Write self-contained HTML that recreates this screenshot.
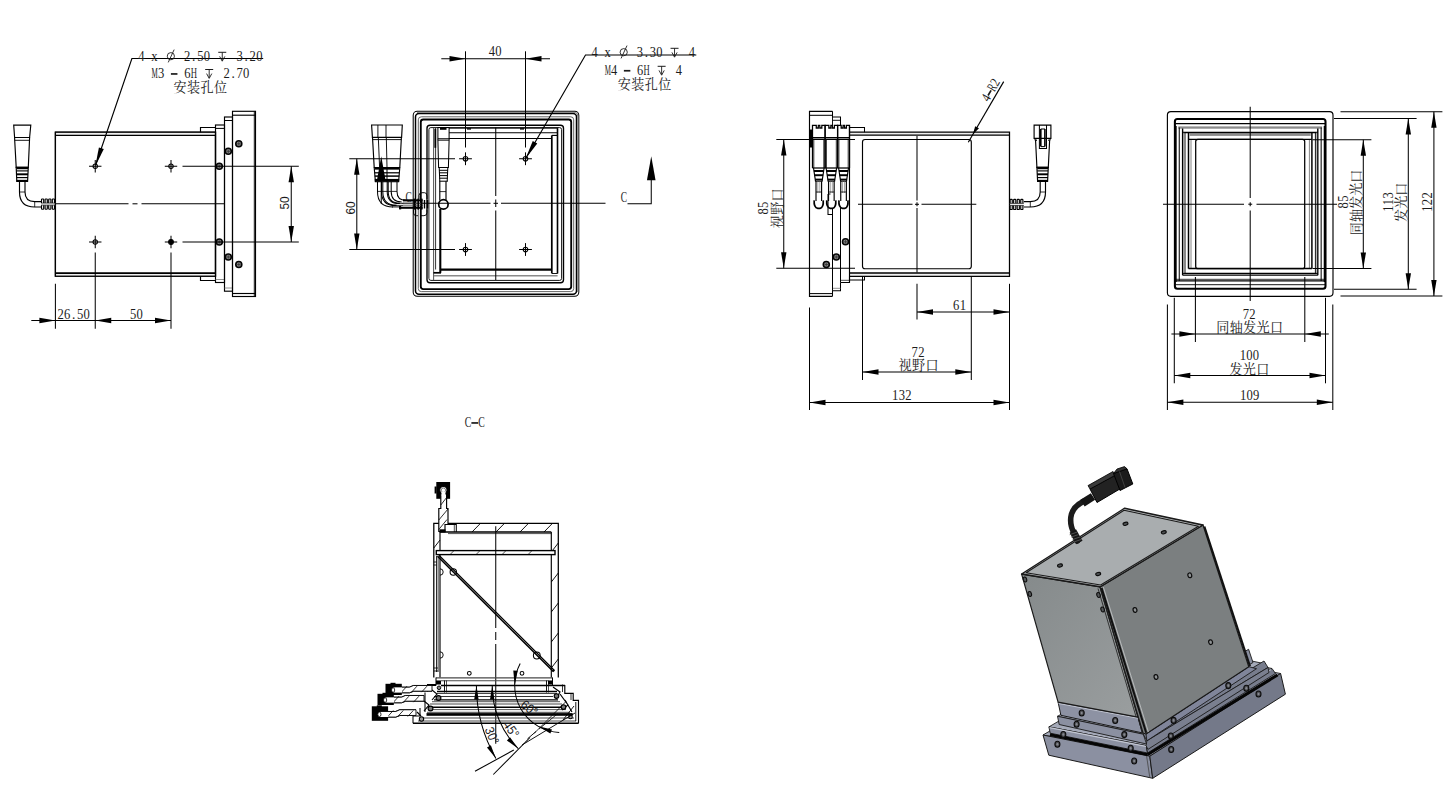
<!DOCTYPE html>
<html><head><meta charset="utf-8"><title>Drawing</title>
<style>html,body{margin:0;padding:0;background:#fff;overflow:hidden}svg{display:block}</style>
</head><body>
<svg width="1456" height="792" viewBox="0 0 1456 792">
<rect width="1456" height="792" fill="#fff"/>
<g id="v1">
<rect x="55.4" y="132.2" width="160.1" height="144" rx="0" fill="none" stroke="#000" stroke-width="1.26"/>
<rect x="55.4" y="132.2" width="160.1" height="3" fill="#eeeeee"/>
<rect x="55.4" y="272.6" width="160.1" height="3.6" fill="#eeeeee"/>
<rect x="55.4" y="132.2" width="160.1" height="144" rx="0" fill="none" stroke="#000" stroke-width="1.26"/>
<line x1="55.4" y1="135.4" x2="215.5" y2="135.4" stroke="#000" stroke-width="1.15"/>
<line x1="55.4" y1="273.1" x2="215.5" y2="273.1" stroke="#000" stroke-width="1.72"/>
<path d="M200.5 132.2 V127.5 H215.5" fill="none" stroke="#000" stroke-width="1.15" />
<path d="M200.5 276.2 V280.5 H215.5" fill="none" stroke="#000" stroke-width="1.15" />
<rect x="215.5" y="125" width="9" height="157.5" rx="0" fill="none" stroke="#000" stroke-width="1.15"/>
<line x1="215.5" y1="128.4" x2="224.5" y2="128.4" stroke="#000" stroke-width="1.03"/>
<line x1="215.5" y1="279.5" x2="224.5" y2="279.5" stroke="#777" stroke-width="0.8"/>
<rect x="224.5" y="117" width="8" height="174.2" rx="0" fill="none" stroke="#000" stroke-width="1.15"/>
<line x1="224.5" y1="120.5" x2="232.5" y2="120.5" stroke="#000" stroke-width="1.03"/>
<line x1="224.5" y1="288" x2="232.5" y2="288" stroke="#777" stroke-width="0.8"/>
<rect x="232.5" y="111.3" width="23" height="185.2" rx="0" fill="none" stroke="#000" stroke-width="1.15"/>
<line x1="232.5" y1="115.2" x2="255.5" y2="115.2" stroke="#000" stroke-width="1.15"/>
<line x1="232.5" y1="293.5" x2="255.5" y2="293.5" stroke="#000" stroke-width="1.15"/>
<line x1="254.3" y1="111.3" x2="254.3" y2="296.5" stroke="#000" stroke-width="0.92"/>
<line x1="55.4" y1="203.8" x2="128.5" y2="203.8" stroke="#000" stroke-width="1.03"/>
<line x1="132.5" y1="203.8" x2="137.5" y2="203.8" stroke="#000" stroke-width="1.03"/>
<line x1="141.5" y1="203.8" x2="224.5" y2="203.8" stroke="#000" stroke-width="1.03"/>
<circle cx="95.25" cy="166.25" r="2.2" fill="none" stroke="#000" stroke-width="1.03"/>
<line x1="89.05" y1="166.25" x2="101.45" y2="166.25" stroke="#000" stroke-width="1.03"/>
<line x1="95.25" y1="160.05" x2="95.25" y2="172.45" stroke="#000" stroke-width="1.03"/>
<circle cx="171" cy="166.25" r="2.2" fill="none" stroke="#000" stroke-width="1.03"/>
<line x1="164.8" y1="166.25" x2="177.2" y2="166.25" stroke="#000" stroke-width="1.03"/>
<line x1="171" y1="160.05" x2="171" y2="172.45" stroke="#000" stroke-width="1.03"/>
<circle cx="95.25" cy="242" r="2.2" fill="none" stroke="#000" stroke-width="1.03"/>
<line x1="89.05" y1="242" x2="101.45" y2="242" stroke="#000" stroke-width="1.03"/>
<line x1="95.25" y1="235.8" x2="95.25" y2="248.2" stroke="#000" stroke-width="1.03"/>
<circle cx="171" cy="242" r="2.4" fill="#000" stroke="#000" stroke-width="1.03"/>
<line x1="164.8" y1="242" x2="177.2" y2="242" stroke="#000" stroke-width="1.03"/>
<line x1="171" y1="235.8" x2="171" y2="248.2" stroke="#000" stroke-width="1.03"/>
<circle cx="238.8" cy="143.8" r="3" fill="#858585" stroke="#050505" stroke-width="1.61"/>
<line x1="237.1" y1="143.8" x2="240.5" y2="143.8" stroke="#2a2a2a" stroke-width="0.69"/>
<line x1="238.8" y1="142.1" x2="238.8" y2="145.5" stroke="#2a2a2a" stroke-width="0.69"/>
<circle cx="228.3" cy="151.3" r="3" fill="#858585" stroke="#050505" stroke-width="1.61"/>
<line x1="226.6" y1="151.3" x2="230" y2="151.3" stroke="#2a2a2a" stroke-width="0.69"/>
<line x1="228.3" y1="149.6" x2="228.3" y2="153" stroke="#2a2a2a" stroke-width="0.69"/>
<circle cx="219.3" cy="166.25" r="3" fill="#858585" stroke="#050505" stroke-width="1.61"/>
<line x1="217.6" y1="166.25" x2="221" y2="166.25" stroke="#2a2a2a" stroke-width="0.69"/>
<line x1="219.3" y1="164.55" x2="219.3" y2="167.95" stroke="#2a2a2a" stroke-width="0.69"/>
<circle cx="219.3" cy="242" r="3" fill="#858585" stroke="#050505" stroke-width="1.61"/>
<line x1="217.6" y1="242" x2="221" y2="242" stroke="#2a2a2a" stroke-width="0.69"/>
<line x1="219.3" y1="240.3" x2="219.3" y2="243.7" stroke="#2a2a2a" stroke-width="0.69"/>
<circle cx="228.3" cy="257" r="3" fill="#858585" stroke="#050505" stroke-width="1.61"/>
<line x1="226.6" y1="257" x2="230" y2="257" stroke="#2a2a2a" stroke-width="0.69"/>
<line x1="228.3" y1="255.3" x2="228.3" y2="258.7" stroke="#2a2a2a" stroke-width="0.69"/>
<circle cx="238.8" cy="264.5" r="3" fill="#858585" stroke="#050505" stroke-width="1.61"/>
<line x1="237.1" y1="264.5" x2="240.5" y2="264.5" stroke="#2a2a2a" stroke-width="0.69"/>
<line x1="238.8" y1="262.8" x2="238.8" y2="266.2" stroke="#2a2a2a" stroke-width="0.69"/>
<line x1="182.5" y1="166.25" x2="298.8" y2="166.25" stroke="#000" stroke-width="1.03"/>
<line x1="182.5" y1="242" x2="298.8" y2="242" stroke="#000" stroke-width="1.03"/>
<line x1="291.25" y1="166.25" x2="291.25" y2="242" stroke="#000" stroke-width="1.03"/>
<polygon points="291.25,166.25 293.95,182.25 288.55,182.25" fill="#000" stroke="none" stroke-width="0" />
<polygon points="291.25,242 288.55,226 293.95,226" fill="#000" stroke="none" stroke-width="0" />
<text transform="translate(288.6 202.9) rotate(-90)" text-anchor="middle" font-family="Liberation Sans" font-size="13" fill="#1c1c1c" textLength="13.2" lengthAdjust="spacingAndGlyphs">50</text>
<line x1="55.4" y1="283.8" x2="55.4" y2="328.8" stroke="#000" stroke-width="1.03"/>
<line x1="95.25" y1="252.5" x2="95.25" y2="328.8" stroke="#000" stroke-width="1.03"/>
<line x1="171" y1="252.5" x2="171" y2="328.8" stroke="#000" stroke-width="1.03"/>
<line x1="31.3" y1="320.5" x2="171" y2="320.5" stroke="#000" stroke-width="1.03"/>
<polygon points="55.4,320.5 39.4,323.2 39.4,317.8" fill="#000" stroke="none" stroke-width="0" />
<polygon points="95.25,320.5 111.25,317.8 111.25,323.2" fill="#000" stroke="none" stroke-width="0" />
<polygon points="171,320.5 155,323.2 155,317.8" fill="#000" stroke="none" stroke-width="0" />
<g font-family="Liberation Serif" font-size="14.0" fill="#1c1c1c"><text transform="translate(60.57 318.6) scale(0.900 1)" text-anchor="middle">2</text><text transform="translate(67.12 318.6) scale(0.900 1)" text-anchor="middle">6</text><text transform="translate(73.67 318.6) scale(0.950 1)" text-anchor="middle">.</text><text transform="translate(80.22 318.6) scale(0.900 1)" text-anchor="middle">5</text><text transform="translate(86.77 318.6) scale(0.900 1)" text-anchor="middle">0</text></g>
<g font-family="Liberation Serif" font-size="14.0" fill="#1c1c1c"><text transform="translate(133.08 318.6) scale(0.900 1)" text-anchor="middle">5</text><text transform="translate(139.63 318.6) scale(0.900 1)" text-anchor="middle">0</text></g>
<path d="M263.2 58.5 H131.9 L95.6 165.3" fill="none" stroke="#000" stroke-width="1.15" />
<polygon points="95.25,166.25 98.91,147.42 103.83,149.1" fill="#000" stroke="none" stroke-width="0" />
<g font-family="Liberation Serif" font-size="14.0" fill="#1c1c1c"><text transform="translate(141.38 60.6) scale(0.900 1)" text-anchor="middle">4</text><text transform="translate(154.48 60.6) scale(0.900 1)" text-anchor="middle">x</text><circle cx="170.85" cy="56.2" r="3.6" fill="none" stroke="#1c1c1c" stroke-width="0.9"/><line x1="168.25" y1="62.4" x2="174.15" y2="49.6" stroke="#1c1c1c" stroke-width="0.9"/><text transform="translate(187.23 60.6) scale(0.900 1)" text-anchor="middle">2</text><text transform="translate(193.78 60.6) scale(0.950 1)" text-anchor="middle">.</text><text transform="translate(200.33 60.6) scale(0.900 1)" text-anchor="middle">5</text><text transform="translate(206.88 60.6) scale(0.900 1)" text-anchor="middle">0</text><line x1="218.25" y1="52.3" x2="226.25" y2="52.3" stroke="#1c1c1c" stroke-width="1"/><line x1="222.25" y1="52.3" x2="222.25" y2="60.6" stroke="#1c1c1c" stroke-width="0.9"/><path d="M219.65 56.4 L222.25 61.2 L224.85 56.4" fill="none" stroke="#1c1c1c" stroke-width="0.9"/><text transform="translate(239.63 60.6) scale(0.900 1)" text-anchor="middle">3</text><text transform="translate(246.18 60.6) scale(0.950 1)" text-anchor="middle">.</text><text transform="translate(252.73 60.6) scale(0.900 1)" text-anchor="middle">2</text><text transform="translate(259.28 60.6) scale(0.900 1)" text-anchor="middle">0</text></g>
<g font-family="Liberation Serif" font-size="14.0" fill="#1c1c1c"><text transform="translate(154.53 77.8) scale(0.506 1)" text-anchor="middle">M</text><text transform="translate(161.08 77.8) scale(0.900 1)" text-anchor="middle">3</text><rect x="170.9" y="73.1" width="6.55" height="1.7" fill="#1c1c1c"/><text transform="translate(187.28 77.8) scale(0.900 1)" text-anchor="middle">6</text><text transform="translate(193.83 77.8) scale(0.623 1)" text-anchor="middle">H</text><line x1="205.2" y1="69.5" x2="213.2" y2="69.5" stroke="#1c1c1c" stroke-width="1"/><line x1="209.2" y1="69.5" x2="209.2" y2="77.8" stroke="#1c1c1c" stroke-width="0.9"/><path d="M206.6 73.6 L209.2 78.4 L211.8 73.6" fill="none" stroke="#1c1c1c" stroke-width="0.9"/><text transform="translate(226.58 77.8) scale(0.900 1)" text-anchor="middle">2</text><text transform="translate(233.13 77.8) scale(0.950 1)" text-anchor="middle">.</text><text transform="translate(239.68 77.8) scale(0.900 1)" text-anchor="middle">7</text><text transform="translate(246.23 77.8) scale(0.900 1)" text-anchor="middle">0</text></g>
<text x="173.6" y="91.5" font-family="'Liberation Serif', 'Noto Serif CJK SC', serif" font-size="13.1" letter-spacing="0.35" fill="#1c1c1c">安装孔位</text>
<path d="M13.7 125.1 H30.8 L29.6 137.5 H14.6 Z" fill="none" stroke="#000" stroke-width="1.15" />
<line x1="14.7" y1="140.3" x2="29.5" y2="140.3" stroke="#000" stroke-width="0.92"/>
<path d="M14.6 137.5 L14.7 140.3 L16.2 167.4 H28.3 L29.5 140.3 L29.6 137.5" fill="none" stroke="#000" stroke-width="1.15" />
<path d="M16.2 167.4 L16.8 181.3 H27.6 L28.3 167.4 Z" fill="none" stroke="#000" stroke-width="1.15" />
<line x1="16.5" y1="168.3" x2="28" y2="168.3" stroke="#000" stroke-width="1.84"/>
<line x1="16.5" y1="170.9" x2="28" y2="170.9" stroke="#000" stroke-width="1.15"/>
<line x1="16.5" y1="174.3" x2="28" y2="174.3" stroke="#000" stroke-width="1.95"/>
<line x1="16.5" y1="177.6" x2="28" y2="177.6" stroke="#000" stroke-width="1.15"/>
<line x1="16.5" y1="180.8" x2="28" y2="180.8" stroke="#000" stroke-width="1.95"/>
<path d="M19.5 181.3 V192 Q19.5 207 34.7 207 H41" fill="none" stroke="#000" stroke-width="1.15" />
<path d="M25 181.3 V192 Q25 201.6 34.7 201.6 H41" fill="none" stroke="#000" stroke-width="1.15" />
<line x1="19.5" y1="192" x2="25" y2="192" stroke="#000" stroke-width="0.8"/>
<line x1="34.7" y1="201.6" x2="34.7" y2="207" stroke="#000" stroke-width="0.8"/>
<line x1="41" y1="203.1" x2="55.4" y2="203.1" stroke="#444" stroke-width="0.92"/>
<line x1="41" y1="205.1" x2="55.4" y2="205.1" stroke="#444" stroke-width="0.92"/>
<path d="M41.5 203 V199.6 Q41.5 199 42.1 199 H43.1 Q43.7 199 43.7 199.6 V203" fill="none" stroke="#000" stroke-width="1.15" />
<path d="M41.5 205.2 V208.6 Q41.5 209.2 42.1 209.2 H43.1 Q43.7 209.2 43.7 208.6 V205.2" fill="none" stroke="#000" stroke-width="1.15" />
<path d="M45.1 203 V199.6 Q45.1 199 45.7 199 H46.7 Q47.3 199 47.3 199.6 V203" fill="none" stroke="#000" stroke-width="1.15" />
<path d="M45.1 205.2 V208.6 Q45.1 209.2 45.7 209.2 H46.7 Q47.3 209.2 47.3 208.6 V205.2" fill="none" stroke="#000" stroke-width="1.15" />
<path d="M48.7 203 V199.6 Q48.7 199 49.3 199 H50.3 Q50.9 199 50.9 199.6 V203" fill="none" stroke="#000" stroke-width="1.15" />
<path d="M48.7 205.2 V208.6 Q48.7 209.2 49.3 209.2 H50.3 Q50.9 209.2 50.9 208.6 V205.2" fill="none" stroke="#000" stroke-width="1.15" />
<path d="M52.3 203 V199.6 Q52.3 199 52.9 199 H53.9 Q54.5 199 54.5 199.6 V203" fill="none" stroke="#000" stroke-width="1.15" />
<path d="M52.3 205.2 V208.6 Q52.3 209.2 52.9 209.2 H53.9 Q54.5 209.2 54.5 208.6 V205.2" fill="none" stroke="#000" stroke-width="1.15" />
</g>
<g id="v2">
<rect x="413.2" y="111.3" width="165.6" height="185" rx="4" fill="none" stroke="#000" stroke-width="1.03"/>
<rect x="415.5" y="113.6" width="161" height="180.6" rx="3.5" fill="none" stroke="#000" stroke-width="1.49"/>
<rect x="418.3" y="116.8" width="155.4" height="174.8" rx="3" fill="none" stroke="#555" stroke-width="0.92"/>
<rect x="420.8" y="119.5" width="150.4" height="169.6" rx="2.5" fill="none" stroke="#000" stroke-width="1.84"/>
<rect x="427" y="125.3" width="136.5" height="157.4" rx="3" fill="none" stroke="#000" stroke-width="1.38"/>
<rect x="428.9" y="127.6" width="132.7" height="152.8" rx="2" fill="none" stroke="#000" stroke-width="0.92"/>
<path d="M417 112.5 H574.2 Q577.7 112.5 577.7 116 V292" fill="none" stroke="#8a8a8a" stroke-width="1.15" />
<line x1="433.6" y1="128" x2="433.6" y2="280" stroke="#555" stroke-width="1.03"/>
<line x1="435.6" y1="128" x2="435.6" y2="269.5" stroke="#000" stroke-width="0.8"/>
<rect x="434.4" y="128.8" width="1.8" height="19" fill="#000"/>
<line x1="449" y1="128.2" x2="558" y2="128.2" stroke="#000" stroke-width="0.92"/>
<line x1="449" y1="132.8" x2="557.5" y2="132.8" stroke="#000" stroke-width="1.03"/>
<line x1="449" y1="138.6" x2="552" y2="138.6" stroke="#000" stroke-width="1.03"/>
<line x1="551.8" y1="135.4" x2="551.8" y2="273.5" stroke="#000" stroke-width="1.72"/>
<line x1="557.5" y1="128.2" x2="557.5" y2="273.5" stroke="#000" stroke-width="1.61"/>
<line x1="552" y1="273.5" x2="557.6" y2="273.5" stroke="#000" stroke-width="0.92"/>
<line x1="551.8" y1="135.4" x2="557.5" y2="135.4" stroke="#000" stroke-width="1.15"/>
<line x1="440.3" y1="209" x2="440.3" y2="272.8" stroke="#000" stroke-width="2.07"/>
<line x1="440.3" y1="269.6" x2="552" y2="269.6" stroke="#000" stroke-width="2.07"/>
<line x1="433.5" y1="272.8" x2="441" y2="272.8" stroke="#000" stroke-width="1.72"/>
<line x1="434" y1="275.7" x2="557.6" y2="275.7" stroke="#8a8a8a" stroke-width="1.61"/>
<line x1="467" y1="128.9" x2="471" y2="128.9" stroke="#000" stroke-width="1.38"/>
<line x1="520" y1="128.9" x2="524" y2="128.9" stroke="#000" stroke-width="1.38"/>
<path d="M437.9 127.6 H449.1 V138.7 H437.9 Z" fill="none" stroke="#000" stroke-width="1.03" />
<rect x="440" y="127.6" width="6.5" height="2.2" fill="#000"/>
<path d="M437.9 138.7 V140.2 L438.6 167.5 H448.4 L449.1 140.2 V138.7" fill="none" stroke="#000" stroke-width="1.03" />
<line x1="437.9" y1="140.2" x2="449.1" y2="140.2" stroke="#000" stroke-width="0.92"/>
<line x1="439.2" y1="167.5" x2="447.8" y2="167.5" stroke="#000" stroke-width="1.03"/>
<line x1="439.2" y1="170.3" x2="447.8" y2="170.3" stroke="#000" stroke-width="1.03"/>
<line x1="439.2" y1="172.8" x2="447.8" y2="172.8" stroke="#000" stroke-width="1.03"/>
<line x1="439.2" y1="175.6" x2="447.8" y2="175.6" stroke="#000" stroke-width="1.03"/>
<line x1="439.2" y1="178.2" x2="447.8" y2="178.2" stroke="#000" stroke-width="1.03"/>
<line x1="439.2" y1="181.2" x2="447.8" y2="181.2" stroke="#000" stroke-width="1.03"/>
<path d="M439.2 167.5 L439.8 181.2 M447.8 167.5 L447.2 181.2" fill="none" stroke="#000" stroke-width="1.03" />
<path d="M439.8 181.2 V200.5 M446 181.2 V200.5" fill="none" stroke="#000" stroke-width="1.15" />
<line x1="439.8" y1="191.6" x2="446" y2="191.6" stroke="#000" stroke-width="0.8"/>
<circle cx="443.4" cy="204.4" r="4.7" fill="none" stroke="#000" stroke-width="1.72"/>
<line x1="402.5" y1="203.3" x2="490.5" y2="203.3" stroke="#000" stroke-width="1.03"/>
<line x1="493.5" y1="203.3" x2="498" y2="203.3" stroke="#000" stroke-width="1.03"/>
<line x1="501" y1="203.3" x2="605.5" y2="203.3" stroke="#000" stroke-width="1.03"/>
<line x1="495.75" y1="127.6" x2="495.75" y2="196" stroke="#000" stroke-width="1.03"/>
<line x1="495.75" y1="199.5" x2="495.75" y2="207" stroke="#000" stroke-width="1.03"/>
<line x1="495.75" y1="210.5" x2="495.75" y2="280" stroke="#000" stroke-width="1.03"/>
<circle cx="465.5" cy="158.75" r="2.3" fill="none" stroke="#000" stroke-width="1.03"/>
<line x1="459.1" y1="158.75" x2="471.9" y2="158.75" stroke="#000" stroke-width="1.03"/>
<line x1="465.5" y1="152.35" x2="465.5" y2="165.15" stroke="#000" stroke-width="1.03"/>
<circle cx="525.5" cy="158.75" r="2.3" fill="none" stroke="#000" stroke-width="1.03"/>
<line x1="519.1" y1="158.75" x2="531.9" y2="158.75" stroke="#000" stroke-width="1.03"/>
<line x1="525.5" y1="152.35" x2="525.5" y2="165.15" stroke="#000" stroke-width="1.03"/>
<circle cx="465.5" cy="249.5" r="2.3" fill="none" stroke="#000" stroke-width="1.03"/>
<line x1="459.1" y1="249.5" x2="471.9" y2="249.5" stroke="#000" stroke-width="1.03"/>
<line x1="465.5" y1="243.1" x2="465.5" y2="255.9" stroke="#000" stroke-width="1.03"/>
<circle cx="525.5" cy="249.5" r="2.3" fill="none" stroke="#000" stroke-width="1.03"/>
<line x1="519.1" y1="249.5" x2="531.9" y2="249.5" stroke="#000" stroke-width="1.03"/>
<line x1="525.5" y1="243.1" x2="525.5" y2="255.9" stroke="#000" stroke-width="1.03"/>
<line x1="465.5" y1="51.3" x2="465.5" y2="147.5" stroke="#000" stroke-width="1.03"/>
<line x1="525.5" y1="51.3" x2="525.5" y2="147.5" stroke="#000" stroke-width="1.03"/>
<line x1="441.3" y1="58.75" x2="550" y2="58.75" stroke="#000" stroke-width="1.03"/>
<polygon points="465.5,58.75 449.5,61.45 449.5,56.05" fill="#000" stroke="none" stroke-width="0" />
<polygon points="525.5,58.75 541.5,56.05 541.5,61.45" fill="#000" stroke="none" stroke-width="0" />
<g font-family="Liberation Serif" font-size="14.0" fill="#1c1c1c"><text transform="translate(491.88 56.2) scale(0.900 1)" text-anchor="middle">4</text><text transform="translate(498.43 56.2) scale(0.900 1)" text-anchor="middle">0</text></g>
<line x1="349.3" y1="158.75" x2="455" y2="158.75" stroke="#000" stroke-width="1.03"/>
<line x1="349.3" y1="249.5" x2="455" y2="249.5" stroke="#000" stroke-width="1.03"/>
<line x1="356.8" y1="158.75" x2="356.8" y2="249.5" stroke="#000" stroke-width="1.03"/>
<polygon points="356.8,158.75 359.5,174.75 354.1,174.75" fill="#000" stroke="none" stroke-width="0" />
<polygon points="356.8,249.5 354.1,233.5 359.5,233.5" fill="#000" stroke="none" stroke-width="0" />
<text transform="translate(354.6 208) rotate(-90)" text-anchor="middle" font-family="Liberation Sans" font-size="13" fill="#1c1c1c" textLength="13.2" lengthAdjust="spacingAndGlyphs">60</text>
<path d="M696.3 55 H585.5 L526 158" fill="none" stroke="#000" stroke-width="1.15" />
<polygon points="525.5,158.75 532.76,141 537.26,143.6" fill="#000" stroke="none" stroke-width="0" />
<g font-family="Liberation Serif" font-size="14.0" fill="#1c1c1c"><text transform="translate(594.54 56.6) scale(0.890 1)" text-anchor="middle">4</text><text transform="translate(607.5 56.6) scale(0.890 1)" text-anchor="middle">x</text><circle cx="623.7" cy="52.2" r="3.6" fill="none" stroke="#1c1c1c" stroke-width="0.9"/><line x1="621.1" y1="58.4" x2="627" y2="45.6" stroke="#1c1c1c" stroke-width="0.9"/><text transform="translate(639.9 56.6) scale(0.890 1)" text-anchor="middle">3</text><text transform="translate(646.38 56.6) scale(0.950 1)" text-anchor="middle">.</text><text transform="translate(652.86 56.6) scale(0.890 1)" text-anchor="middle">3</text><text transform="translate(659.34 56.6) scale(0.890 1)" text-anchor="middle">0</text><line x1="670.54" y1="48.3" x2="678.54" y2="48.3" stroke="#1c1c1c" stroke-width="1"/><line x1="674.54" y1="48.3" x2="674.54" y2="56.6" stroke="#1c1c1c" stroke-width="0.9"/><path d="M671.94 52.4 L674.54 57.2 L677.14 52.4" fill="none" stroke="#1c1c1c" stroke-width="0.9"/><text transform="translate(691.74 56.6) scale(0.890 1)" text-anchor="middle">4</text></g>
<g font-family="Liberation Serif" font-size="14.0" fill="#1c1c1c"><text transform="translate(607.73 74.6) scale(0.499 1)" text-anchor="middle">M</text><text transform="translate(614.19 74.6) scale(0.887 1)" text-anchor="middle">4</text><rect x="623.88" y="69.9" width="6.46" height="1.7" fill="#1c1c1c"/><text transform="translate(640.03 74.6) scale(0.887 1)" text-anchor="middle">6</text><text transform="translate(646.49 74.6) scale(0.614 1)" text-anchor="middle">H</text><line x1="657.64" y1="66.3" x2="665.64" y2="66.3" stroke="#1c1c1c" stroke-width="1"/><line x1="661.64" y1="66.3" x2="661.64" y2="74.6" stroke="#1c1c1c" stroke-width="0.9"/><path d="M659.04 70.4 L661.64 75.2 L664.24 70.4" fill="none" stroke="#1c1c1c" stroke-width="0.9"/><text transform="translate(678.79 74.6) scale(0.887 1)" text-anchor="middle">4</text></g>
<text x="617.8" y="88.9" font-family="'Liberation Serif', 'Noto Serif CJK SC', serif" font-size="13.1" letter-spacing="0.35" fill="#1c1c1c">安装孔位</text>
<path d="M627.5 203.8 H651.25 V170" fill="none" stroke="#000" stroke-width="1.03" />
<polygon points="651.25,156.3 655.55,180.3 646.95,180.3" fill="#000" stroke="none" stroke-width="0" />
<g font-family="Liberation Serif" font-size="14.0" fill="#1c1c1c"><text transform="translate(623.88 202.2) scale(0.675 1)" text-anchor="middle">C</text></g>
<line x1="381.25" y1="170" x2="381.25" y2="203.8" stroke="#000" stroke-width="1.03"/>
<polygon points="381.25,156.3 385.55,180.3 376.95,180.3" fill="#000" stroke="none" stroke-width="0" />
<g font-family="Liberation Serif" font-size="14.0" fill="#1c1c1c"><text transform="translate(408.57 202.2) scale(0.675 1)" text-anchor="middle">C</text></g>
<path d="M371.6 125 H402.3 L401.6 137.3 H372.4 Z" fill="none" stroke="#000" stroke-width="1.15" />
<line x1="377.9" y1="125" x2="377.9" y2="137.3" stroke="#000" stroke-width="0.92"/>
<line x1="386" y1="125" x2="386" y2="137.3" stroke="#000" stroke-width="0.92"/>
<line x1="372.6" y1="139.6" x2="401.4" y2="139.6" stroke="#000" stroke-width="0.92"/>
<path d="M372.5 137.3 L374.2 167.5 H399.8 L401.4 137.3" fill="none" stroke="#000" stroke-width="1.15" />
<path d="M378.3 137.3 L379.6 167.5 M386.3 137.3 L387 167.5" fill="none" stroke="#000" stroke-width="0.92" />
<path d="M374.2 167.5 L375.4 181.7 H398.6 L399.8 167.5" fill="none" stroke="#000" stroke-width="1.15" />
<line x1="374.8" y1="168.6" x2="399.2" y2="168.6" stroke="#000" stroke-width="2.07"/>
<line x1="374.8" y1="172.8" x2="399.2" y2="172.8" stroke="#000" stroke-width="1.26"/>
<line x1="374.8" y1="176.1" x2="399.2" y2="176.1" stroke="#000" stroke-width="1.49"/>
<line x1="374.8" y1="180.3" x2="399.2" y2="180.3" stroke="#000" stroke-width="2.76"/>
<line x1="387" y1="167.5" x2="387" y2="181.7" stroke="#000" stroke-width="1.03"/>
<path d="M377.5 181.7 V191.4 Q377.5 206.9 393 206.9 H393" fill="none" stroke="#000" stroke-width="1.03" />
<path d="M381.5 181.7 V191.4 Q381.5 205.6 395.7 205.6 H395.7" fill="none" stroke="#000" stroke-width="1.03" />
<path d="M382.8 181.7 V191.4 Q382.8 205.2 396.6 205.2 H396.6" fill="none" stroke="#000" stroke-width="1.03" />
<path d="M387.2 181.7 V191.4 Q387.2 203.6 399.4 203.6 H399.4" fill="none" stroke="#000" stroke-width="1.03" />
<path d="M388.2 181.7 V191.4 Q388.2 203.2 400 203.2 H400" fill="none" stroke="#000" stroke-width="1.03" />
<path d="M391.2 181.7 V191.4 Q391.2 201.9 401.7 201.9 H401.7" fill="none" stroke="#000" stroke-width="1.03" />
<path d="M397 181.7 V191.4 Q397 200.3 405.9 200.3 H405.9" fill="none" stroke="#000" stroke-width="1.03" />
<line x1="377.5" y1="191.4" x2="397" y2="191.4" stroke="#000" stroke-width="0.8"/>
<line x1="392" y1="206.9" x2="400" y2="206.9" stroke="#000" stroke-width="1.03"/>
<line x1="394" y1="205.4" x2="403" y2="205.4" stroke="#000" stroke-width="0.8"/>
<line x1="398" y1="203.4" x2="404" y2="203.4" stroke="#000" stroke-width="0.8"/>
<rect x="403" y="199.3" width="19.6" height="2.1" fill="#000"/>
<rect x="399" y="206.7" width="23.6" height="2.1" fill="#000"/>
<rect x="399" y="206" width="2.2" height="3.4" fill="#000"/>
<line x1="403" y1="203.3" x2="423" y2="203.3" stroke="#555" stroke-width="0.92"/>
<line x1="403" y1="205.2" x2="423" y2="205.2" stroke="#555" stroke-width="0.92"/>
<line x1="414.2" y1="198.6" x2="414.2" y2="209.6" stroke="#000" stroke-width="1.61"/>
<line x1="418.2" y1="198.6" x2="418.2" y2="209.6" stroke="#000" stroke-width="1.61"/>
<line x1="421.7" y1="198.6" x2="421.7" y2="209.6" stroke="#000" stroke-width="1.61"/>
<line x1="424.5" y1="200" x2="424.5" y2="208.5" stroke="#000" stroke-width="1.38"/>
<line x1="427.5" y1="200" x2="427.5" y2="208.5" stroke="#000" stroke-width="1.38"/>
<path d="M419 199 V195.5 Q419 192.7 422 192.7 H424.5 Q427 192.7 427 196 V199" fill="none" stroke="#000" stroke-width="0.92" />
<path d="M413.5 209.5 V213 Q413.5 215.7 416.5 215.7 H418 M421 215.7 H424 Q427 215.7 427 212.5 V209.5" fill="none" stroke="#000" stroke-width="0.92" />
</g>
<g id="v3">
<rect x="849.5" y="132.2" width="160" height="3" fill="#eeeeee"/>
<rect x="849.5" y="273" width="160" height="3.3" fill="#eeeeee"/>
<path d="M849.5 132.2 H1009.5 V276.3 H849.5" fill="none" stroke="#000" stroke-width="1.26" />
<line x1="849.5" y1="135.2" x2="1009.5" y2="135.2" stroke="#000" stroke-width="1.26"/>
<line x1="849.5" y1="273" x2="1009.5" y2="273" stroke="#000" stroke-width="1.38"/>
<rect x="862.5" y="139.5" width="108.8" height="129.2" rx="2.5" fill="none" stroke="#000" stroke-width="1.15"/>
<line x1="917" y1="136" x2="917" y2="200.5" stroke="#000" stroke-width="1.03"/>
<line x1="917" y1="202.3" x2="917" y2="206.3" stroke="#000" stroke-width="1.03"/>
<line x1="917" y1="208" x2="917" y2="272.5" stroke="#000" stroke-width="1.03"/>
<line x1="858" y1="204.3" x2="912.5" y2="204.3" stroke="#000" stroke-width="1.03"/>
<line x1="915" y1="204.3" x2="919" y2="204.3" stroke="#000" stroke-width="1.03"/>
<line x1="921.5" y1="204.3" x2="976.3" y2="204.3" stroke="#000" stroke-width="1.03"/>
<path d="M832.5 111.3 H809.5 V296.3 H832.5" fill="none" stroke="#000" stroke-width="1.15" />
<line x1="809.5" y1="115.3" x2="832.5" y2="115.3" stroke="#000" stroke-width="1.03"/>
<line x1="809.5" y1="293.6" x2="832.5" y2="293.6" stroke="#000" stroke-width="1.03"/>
<path d="M832.5 111.3 V117 H840.5 V125.5" fill="none" stroke="#000" stroke-width="1.03" />
<path d="M832.5 296.3 V290.8 H840.5 V282.5" fill="none" stroke="#000" stroke-width="1.03" />
<line x1="832.5" y1="120.3" x2="840.5" y2="120.3" stroke="#000" stroke-width="0.92"/>
<line x1="832.5" y1="288.3" x2="840.5" y2="288.3" stroke="#777" stroke-width="0.8"/>
<line x1="832.5" y1="117" x2="832.5" y2="125.5" stroke="#000" stroke-width="0.92"/>
<line x1="832.5" y1="208" x2="832.5" y2="290.8" stroke="#000" stroke-width="1.03"/>
<line x1="840.5" y1="208" x2="840.5" y2="282.5" stroke="#000" stroke-width="1.03"/>
<path d="M840.5 282.5 H849.5 V276.3" fill="none" stroke="#000" stroke-width="1.03" />
<line x1="840.5" y1="280.3" x2="849.5" y2="280.3" stroke="#000" stroke-width="0.69"/>
<line x1="849.5" y1="125.5" x2="849.5" y2="282.5" stroke="#000" stroke-width="1.15"/>
<path d="M849.5 132.2 V127.5 H864.5 V132.2" fill="none" stroke="#000" stroke-width="1.03" />
<path d="M849.5 276.3 V280 H864.5 V276.3" fill="none" stroke="#000" stroke-width="1.03" />
<rect x="809.8" y="129.5" width="2.6" height="18" fill="#000"/>
<path d="M812.5 168 V125.3 H816.28 V128 H818.3 V125.3 H819.81 V128 H821.82 V125.3 H825.1 V168" fill="none" stroke="#000" stroke-width="1.26" />
<line x1="813.8" y1="139" x2="813.8" y2="168" stroke="#000" stroke-width="0.8"/>
<line x1="823.8" y1="139" x2="823.8" y2="168" stroke="#000" stroke-width="0.8"/>
<line x1="812.5" y1="137.6" x2="825.1" y2="137.6" stroke="#000" stroke-width="1.15"/>
<line x1="812.5" y1="139.2" x2="825.1" y2="139.2" stroke="#000" stroke-width="1.15"/>
<line x1="812.5" y1="168" x2="825.1" y2="168" stroke="#000" stroke-width="1.26"/>
<path d="M813.5 168 L815.5 181.2 H822.1 L824.1 168" fill="none" stroke="#000" stroke-width="1.15" />
<line x1="813.9" y1="171" x2="823.7" y2="171" stroke="#000" stroke-width="1.95"/>
<line x1="814.5" y1="175.2" x2="823.1" y2="175.2" stroke="#000" stroke-width="1.95"/>
<line x1="815.1" y1="179.6" x2="822.5" y2="179.6" stroke="#000" stroke-width="1.95"/>
<path d="M816 181.2 V201 M821.6 181.2 V201" fill="none" stroke="#000" stroke-width="1.15" />
<path d="M817.8 181.2 V193 M819.8 181.2 V193" fill="none" stroke="#666" stroke-width="0.57" />
<line x1="816" y1="192" x2="821.6" y2="192" stroke="#000" stroke-width="0.8"/>
<path d="M814.2 200.4 Q813.6 207.6 817.8 208.4 L820 208.4 Q823.8 207.6 823.2 200.4" fill="none" stroke="#000" stroke-width="1.72" />
<path d="M825.1 168 V125.3 H828.85 V128 H830.85 V125.3 H832.35 V128 H834.35 V125.3 H837.6 V168" fill="none" stroke="#000" stroke-width="1.26" />
<line x1="826.4" y1="139" x2="826.4" y2="168" stroke="#000" stroke-width="0.8"/>
<line x1="836.3" y1="139" x2="836.3" y2="168" stroke="#000" stroke-width="0.8"/>
<line x1="825.1" y1="137.6" x2="837.6" y2="137.6" stroke="#000" stroke-width="1.15"/>
<line x1="825.1" y1="139.2" x2="837.6" y2="139.2" stroke="#000" stroke-width="1.15"/>
<line x1="825.1" y1="168" x2="837.6" y2="168" stroke="#000" stroke-width="1.26"/>
<path d="M826.1 168 L828.1 181.2 H834.6 L836.6 168" fill="none" stroke="#000" stroke-width="1.15" />
<line x1="826.5" y1="171" x2="836.2" y2="171" stroke="#000" stroke-width="1.95"/>
<line x1="827.1" y1="175.2" x2="835.6" y2="175.2" stroke="#000" stroke-width="1.95"/>
<line x1="827.7" y1="179.6" x2="835" y2="179.6" stroke="#000" stroke-width="1.95"/>
<path d="M828.55 181.2 V201 M834.15 181.2 V201" fill="none" stroke="#000" stroke-width="1.15" />
<path d="M830.35 181.2 V193 M832.35 181.2 V193" fill="none" stroke="#666" stroke-width="0.57" />
<line x1="828.55" y1="192" x2="834.15" y2="192" stroke="#000" stroke-width="0.8"/>
<path d="M826.75 200.4 Q826.15 207.6 830.35 208.4 L832.55 208.4 Q836.35 207.6 835.75 200.4" fill="none" stroke="#000" stroke-width="1.72" />
<path d="M837.6 168 V125.3 H841.17 V128 H843.07 V125.3 H844.5 V128 H846.41 V125.3 H849.5 V168" fill="none" stroke="#000" stroke-width="1.26" />
<line x1="838.9" y1="139" x2="838.9" y2="168" stroke="#000" stroke-width="0.8"/>
<line x1="848.2" y1="139" x2="848.2" y2="168" stroke="#000" stroke-width="0.8"/>
<line x1="837.6" y1="137.6" x2="849.5" y2="137.6" stroke="#000" stroke-width="1.15"/>
<line x1="837.6" y1="139.2" x2="849.5" y2="139.2" stroke="#000" stroke-width="1.15"/>
<line x1="837.6" y1="168" x2="849.5" y2="168" stroke="#000" stroke-width="1.26"/>
<path d="M838.6 168 L840.6 181.2 H846.5 L848.5 168" fill="none" stroke="#000" stroke-width="1.15" />
<line x1="839" y1="171" x2="848.1" y2="171" stroke="#000" stroke-width="1.95"/>
<line x1="839.6" y1="175.2" x2="847.5" y2="175.2" stroke="#000" stroke-width="1.95"/>
<line x1="840.2" y1="179.6" x2="846.9" y2="179.6" stroke="#000" stroke-width="1.95"/>
<path d="M840.75 181.2 V201 M846.35 181.2 V201" fill="none" stroke="#000" stroke-width="1.15" />
<path d="M842.55 181.2 V193 M844.55 181.2 V193" fill="none" stroke="#666" stroke-width="0.57" />
<line x1="840.75" y1="192" x2="846.35" y2="192" stroke="#000" stroke-width="0.8"/>
<path d="M838.95 200.4 Q838.35 207.6 842.55 208.4 L844.75 208.4 Q848.55 207.6 847.95 200.4" fill="none" stroke="#000" stroke-width="1.72" />
<path d="M828 194 V214.5 H832.5 M828 194 H830.5" fill="none" stroke="#000" stroke-width="1.03" />
<circle cx="845.5" cy="241.8" r="3" fill="#858585" stroke="#050505" stroke-width="1.61"/>
<line x1="843.8" y1="241.8" x2="847.2" y2="241.8" stroke="#2a2a2a" stroke-width="0.69"/>
<line x1="845.5" y1="240.1" x2="845.5" y2="243.5" stroke="#2a2a2a" stroke-width="0.69"/>
<circle cx="836.3" cy="257" r="3" fill="#858585" stroke="#050505" stroke-width="1.61"/>
<line x1="834.6" y1="257" x2="838" y2="257" stroke="#2a2a2a" stroke-width="0.69"/>
<line x1="836.3" y1="255.3" x2="836.3" y2="258.7" stroke="#2a2a2a" stroke-width="0.69"/>
<circle cx="826.3" cy="264.5" r="3" fill="#858585" stroke="#050505" stroke-width="1.61"/>
<line x1="824.6" y1="264.5" x2="828" y2="264.5" stroke="#2a2a2a" stroke-width="0.69"/>
<line x1="826.3" y1="262.8" x2="826.3" y2="266.2" stroke="#2a2a2a" stroke-width="0.69"/>
<line x1="776.3" y1="139.5" x2="855" y2="139.5" stroke="#000" stroke-width="1.03"/>
<line x1="776.3" y1="268.3" x2="855" y2="268.3" stroke="#000" stroke-width="1.03"/>
<line x1="783.75" y1="139.5" x2="783.75" y2="268.3" stroke="#000" stroke-width="1.03"/>
<polygon points="783.75,139.5 786.45,155.5 781.05,155.5" fill="#000" stroke="none" stroke-width="0" />
<polygon points="783.75,268.3 781.05,252.3 786.45,252.3" fill="#000" stroke="none" stroke-width="0" />
<g font-family="Liberation Serif" font-size="14.0" fill="#1c1c1c" transform="rotate(-90 768.3 208.1)"><text transform="translate(765.02 208.1) scale(0.900 1)" text-anchor="middle">8</text><text transform="translate(771.57 208.1) scale(0.900 1)" text-anchor="middle">5</text></g>
<text transform="rotate(-90 770.9 228.2) translate(770.9 228.2)" x="0" y="11.5" font-family="'Liberation Serif', 'Noto Serif CJK SC', serif" font-size="13.1" letter-spacing="0.3" fill="#1c1c1c">视野口</text>
<line x1="1003.7" y1="81.6" x2="968.3" y2="142.3" stroke="#000" stroke-width="1.15"/>
<polygon points="972.8,134.6 975.18,126.15 978.98,128.37" fill="#000" stroke="none" stroke-width="0" />
<g font-family="Liberation Serif" font-size="14.0" fill="#1c1c1c" transform="rotate(-59.74943210294401 994.4 92.3)"><text transform="translate(985.4 92.3) scale(0.821 1)" text-anchor="middle">4</text><rect x="988.4" y="87.6" width="6" height="1.7" fill="#1c1c1c"/><text transform="translate(997.4 92.3) scale(0.616 1)" text-anchor="middle">R</text><text transform="translate(1003.4 92.3) scale(0.821 1)" text-anchor="middle">2</text></g>
<line x1="917" y1="283.8" x2="917" y2="319.5" stroke="#000" stroke-width="1.03"/>
<line x1="1009.5" y1="283.8" x2="1009.5" y2="410" stroke="#000" stroke-width="1.03"/>
<line x1="917" y1="312" x2="1009.5" y2="312" stroke="#000" stroke-width="1.03"/>
<polygon points="917,312 933,309.3 933,314.7" fill="#000" stroke="none" stroke-width="0" />
<polygon points="1009.5,312 993.5,314.7 993.5,309.3" fill="#000" stroke="none" stroke-width="0" />
<g font-family="Liberation Serif" font-size="14.0" fill="#1c1c1c"><text transform="translate(956.27 310.2) scale(0.900 1)" text-anchor="middle">6</text><text transform="translate(962.82 310.2) scale(0.900 1)" text-anchor="middle">1</text></g>
<line x1="862.5" y1="276.3" x2="862.5" y2="380" stroke="#000" stroke-width="1.03"/>
<line x1="971.3" y1="276.3" x2="971.3" y2="380" stroke="#000" stroke-width="1.03"/>
<line x1="862.5" y1="372" x2="971.3" y2="372" stroke="#000" stroke-width="1.03"/>
<polygon points="862.5,372 878.5,369.3 878.5,374.7" fill="#000" stroke="none" stroke-width="0" />
<polygon points="971.3,372 955.3,374.7 955.3,369.3" fill="#000" stroke="none" stroke-width="0" />
<g font-family="Liberation Serif" font-size="14.0" fill="#1c1c1c"><text transform="translate(914.77 357.2) scale(0.900 1)" text-anchor="middle">7</text><text transform="translate(921.32 357.2) scale(0.900 1)" text-anchor="middle">2</text></g>
<text x="898.6" y="370.4" font-family="'Liberation Serif', 'Noto Serif CJK SC', serif" font-size="13.1" letter-spacing="0.35" fill="#1c1c1c">视野口</text>
<line x1="809.5" y1="307.5" x2="809.5" y2="410" stroke="#000" stroke-width="1.03"/>
<line x1="809.5" y1="402.5" x2="1009.5" y2="402.5" stroke="#000" stroke-width="1.03"/>
<polygon points="809.5,402.5 825.5,399.8 825.5,405.2" fill="#000" stroke="none" stroke-width="0" />
<polygon points="1009.5,402.5 993.5,405.2 993.5,399.8" fill="#000" stroke="none" stroke-width="0" />
<g font-family="Liberation Serif" font-size="14.0" fill="#1c1c1c"><text transform="translate(895.27 400.2) scale(0.900 1)" text-anchor="middle">1</text><text transform="translate(901.82 400.2) scale(0.900 1)" text-anchor="middle">3</text><text transform="translate(908.37 400.2) scale(0.900 1)" text-anchor="middle">2</text></g>
<path d="M1034.1 125.1 H1050.9 V138.4 H1034.1 Z" fill="none" stroke="#000" stroke-width="1.15" />
<path d="M1039.4 125.1 V148.5 H1046.5 V125.1" fill="none" stroke="#000" stroke-width="1.03" />
<path d="M1040.8 129 V146.6 M1044.9 129 V146.6" fill="none" stroke="#000" stroke-width="1.61" />
<line x1="1040.8" y1="129" x2="1044.9" y2="129" stroke="#000" stroke-width="1.03"/>
<line x1="1040.8" y1="146.6" x2="1044.9" y2="146.6" stroke="#000" stroke-width="1.03"/>
<path d="M1034.8 138.4 L1035.6 141 L1036.9 167.4 H1048.3 L1049.6 141 L1050.3 138.4" fill="none" stroke="#000" stroke-width="1.15" />
<path d="M1036.4 141 V139.5 M1048.8 141 V139.5" fill="none" stroke="#000" stroke-width="0.92" />
<path d="M1036.9 167.4 L1037.6 181.3 H1047.6 L1048.3 167.4 Z" fill="none" stroke="#000" stroke-width="1.15" />
<line x1="1037.2" y1="168.3" x2="1048" y2="168.3" stroke="#000" stroke-width="1.84"/>
<line x1="1037.2" y1="170.9" x2="1048" y2="170.9" stroke="#000" stroke-width="1.15"/>
<line x1="1037.2" y1="174.3" x2="1048" y2="174.3" stroke="#000" stroke-width="1.95"/>
<line x1="1037.2" y1="177.6" x2="1048" y2="177.6" stroke="#000" stroke-width="1.15"/>
<line x1="1037.2" y1="180.8" x2="1048" y2="180.8" stroke="#000" stroke-width="1.95"/>
<path d="M1045.5 181.3 V192 Q1045.5 207 1030.3 207 H1023.8" fill="none" stroke="#000" stroke-width="1.15" />
<path d="M1040.2 181.3 V192 Q1040.2 201.6 1030.3 201.6 H1023.8" fill="none" stroke="#000" stroke-width="1.15" />
<line x1="1040.2" y1="192" x2="1045.5" y2="192" stroke="#000" stroke-width="0.8"/>
<line x1="1030.3" y1="201.6" x2="1030.3" y2="207" stroke="#000" stroke-width="0.8"/>
<line x1="1009.6" y1="203.4" x2="1023.8" y2="203.4" stroke="#444" stroke-width="0.92"/>
<line x1="1009.6" y1="205.4" x2="1023.8" y2="205.4" stroke="#444" stroke-width="0.92"/>
<path d="M1010.1 203.3 V199.9 Q1010.1 199.3 1010.7 199.3 H1011.65 Q1012.25 199.3 1012.25 199.9 V203.3" fill="none" stroke="#000" stroke-width="1.15" />
<path d="M1010.1 205.5 V208.9 Q1010.1 209.5 1010.7 209.5 H1011.65 Q1012.25 209.5 1012.25 208.9 V205.5" fill="none" stroke="#000" stroke-width="1.15" />
<path d="M1013.65 203.3 V199.9 Q1013.65 199.3 1014.25 199.3 H1015.2 Q1015.8 199.3 1015.8 199.9 V203.3" fill="none" stroke="#000" stroke-width="1.15" />
<path d="M1013.65 205.5 V208.9 Q1013.65 209.5 1014.25 209.5 H1015.2 Q1015.8 209.5 1015.8 208.9 V205.5" fill="none" stroke="#000" stroke-width="1.15" />
<path d="M1017.2 203.3 V199.9 Q1017.2 199.3 1017.8 199.3 H1018.75 Q1019.35 199.3 1019.35 199.9 V203.3" fill="none" stroke="#000" stroke-width="1.15" />
<path d="M1017.2 205.5 V208.9 Q1017.2 209.5 1017.8 209.5 H1018.75 Q1019.35 209.5 1019.35 208.9 V205.5" fill="none" stroke="#000" stroke-width="1.15" />
<path d="M1020.75 203.3 V199.9 Q1020.75 199.3 1021.35 199.3 H1022.3 Q1022.9 199.3 1022.9 199.9 V203.3" fill="none" stroke="#000" stroke-width="1.15" />
<path d="M1020.75 205.5 V208.9 Q1020.75 209.5 1021.35 209.5 H1022.3 Q1022.9 209.5 1022.9 208.9 V205.5" fill="none" stroke="#000" stroke-width="1.15" />
</g>
<g id="v4">
<rect x="1167.4" y="111.6" width="165.6" height="184.75" rx="3.5" fill="none" stroke="#000" stroke-width="1.15"/>
<rect x="1174.9" y="119" width="150.6" height="169.7" rx="2.5" fill="none" stroke="#000" stroke-width="2.07"/>
<line x1="1175.5" y1="123.6" x2="1325" y2="123.6" stroke="#000" stroke-width="1.15"/>
<line x1="1175.5" y1="284.7" x2="1325" y2="284.7" stroke="#000" stroke-width="0.92"/>
<rect x="1178.3" y="126.4" width="143.8" height="2.3" fill="#8c8c8c"/>
<rect x="1189.7" y="133.3" width="121" height="2.6" fill="#8c8c8c"/>
<line x1="1175.7" y1="126" x2="1175.7" y2="282" stroke="#000" stroke-width="1.95"/>
<line x1="1324.7" y1="126" x2="1324.7" y2="282" stroke="#000" stroke-width="1.95"/>
<line x1="1179.25" y1="127.5" x2="1179.25" y2="280.9" stroke="#000" stroke-width="1.03"/>
<line x1="1321.15" y1="127.5" x2="1321.15" y2="280.9" stroke="#000" stroke-width="1.03"/>
<line x1="1176" y1="279.3" x2="1324.4" y2="279.3" stroke="#000" stroke-width="0.8"/>
<line x1="1176" y1="280.9" x2="1324.4" y2="280.9" stroke="#000" stroke-width="1.26"/>
<line x1="1182.6" y1="128.5" x2="1182.6" y2="275.2" stroke="#000" stroke-width="1.38"/>
<line x1="1317.8" y1="128.5" x2="1317.8" y2="275.2" stroke="#000" stroke-width="1.38"/>
<line x1="1182.6" y1="132.5" x2="1317.8" y2="132.5" stroke="#000" stroke-width="1.38"/>
<line x1="1182.6" y1="273.3" x2="1317.8" y2="273.3" stroke="#000" stroke-width="1.15"/>
<line x1="1182.6" y1="275.2" x2="1317.8" y2="275.2" stroke="#000" stroke-width="1.26"/>
<line x1="1185" y1="132.5" x2="1185" y2="273.3" stroke="#000" stroke-width="0.92"/>
<line x1="1315.4" y1="132.5" x2="1315.4" y2="273.3" stroke="#000" stroke-width="0.92"/>
<line x1="1183.8" y1="132.5" x2="1183.8" y2="273.3" stroke="#888" stroke-width="0.69"/>
<line x1="1316.6" y1="132.5" x2="1316.6" y2="273.3" stroke="#888" stroke-width="0.69"/>
<line x1="1188.5" y1="133" x2="1188.5" y2="268.6" stroke="#000" stroke-width="1.49"/>
<line x1="1311.9" y1="133" x2="1311.9" y2="268.6" stroke="#000" stroke-width="1.49"/>
<line x1="1191" y1="139.4" x2="1191" y2="268.6" stroke="#666" stroke-width="0.8"/>
<line x1="1309.4" y1="139.4" x2="1309.4" y2="268.6" stroke="#666" stroke-width="0.8"/>
<line x1="1188.5" y1="139.4" x2="1311.9" y2="139.4" stroke="#000" stroke-width="1.38"/>
<line x1="1188.5" y1="268.6" x2="1311.9" y2="268.6" stroke="#000" stroke-width="1.49"/>
<rect x="1195.7" y="139.4" width="109" height="129.2" rx="2.2" fill="none" stroke="#000" stroke-width="1.26"/>
<line x1="1250.2" y1="106.8" x2="1250.2" y2="198" stroke="#000" stroke-width="1.03"/>
<line x1="1250.2" y1="202.3" x2="1250.2" y2="206.2" stroke="#000" stroke-width="1.03"/>
<line x1="1250.2" y1="210.5" x2="1250.2" y2="301" stroke="#000" stroke-width="1.03"/>
<line x1="1163" y1="204.2" x2="1244" y2="204.2" stroke="#000" stroke-width="1.03"/>
<line x1="1248.3" y1="204.2" x2="1252.2" y2="204.2" stroke="#000" stroke-width="1.03"/>
<line x1="1256.5" y1="204.2" x2="1337" y2="204.2" stroke="#000" stroke-width="1.03"/>
<line x1="1340.5" y1="111.7" x2="1442.4" y2="111.7" stroke="#000" stroke-width="1.03"/>
<line x1="1340.5" y1="296" x2="1442.4" y2="296" stroke="#000" stroke-width="1.03"/>
<line x1="1433.9" y1="111.7" x2="1433.9" y2="296" stroke="#000" stroke-width="1.03"/>
<polygon points="1433.9,111.7 1436.6,127.7 1431.2,127.7" fill="#000" stroke="none" stroke-width="0" />
<polygon points="1433.9,296 1431.2,280 1436.6,280" fill="#000" stroke="none" stroke-width="0" />
<line x1="1334" y1="118.5" x2="1416.6" y2="118.5" stroke="#000" stroke-width="1.03"/>
<line x1="1334" y1="289.2" x2="1416.6" y2="289.2" stroke="#000" stroke-width="1.03"/>
<line x1="1408.3" y1="118.5" x2="1408.3" y2="289.2" stroke="#000" stroke-width="1.03"/>
<polygon points="1408.3,118.5 1411,134.5 1405.6,134.5" fill="#000" stroke="none" stroke-width="0" />
<polygon points="1408.3,289.2 1405.6,273.2 1411,273.2" fill="#000" stroke="none" stroke-width="0" />
<line x1="1312.5" y1="139.7" x2="1371.4" y2="139.7" stroke="#000" stroke-width="1.03"/>
<line x1="1312.5" y1="268.4" x2="1371.4" y2="268.4" stroke="#000" stroke-width="1.03"/>
<line x1="1363.3" y1="139.7" x2="1363.3" y2="268.4" stroke="#000" stroke-width="1.03"/>
<polygon points="1363.3,139.7 1366,155.7 1360.6,155.7" fill="#000" stroke="none" stroke-width="0" />
<polygon points="1363.3,268.4 1360.6,252.4 1366,252.4" fill="#000" stroke="none" stroke-width="0" />
<g font-family="Liberation Serif" font-size="14.0" fill="#1c1c1c" transform="rotate(-90 1347.6 202)"><text transform="translate(1344.33 202) scale(0.900 1)" text-anchor="middle">8</text><text transform="translate(1350.88 202) scale(0.900 1)" text-anchor="middle">5</text></g>
<text transform="rotate(-90 1349.2 235.15) translate(1349.2 235.15)" x="0" y="11.5" font-family="'Liberation Serif', 'Noto Serif CJK SC', serif" font-size="13.1" fill="#1c1c1c">同轴发光口</text>
<g font-family="Liberation Serif" font-size="14.0" fill="#1c1c1c" transform="rotate(-90 1393.2 202)"><text transform="translate(1386.65 202) scale(0.900 1)" text-anchor="middle">1</text><text transform="translate(1393.2 202) scale(0.900 1)" text-anchor="middle">1</text><text transform="translate(1399.75 202) scale(0.900 1)" text-anchor="middle">3</text></g>
<text transform="rotate(-90 1394.9 221.95) translate(1394.9 221.95)" x="0" y="11.5" font-family="'Liberation Serif', 'Noto Serif CJK SC', serif" font-size="13.1" fill="#1c1c1c">发光口</text>
<g font-family="Liberation Serif" font-size="14.0" fill="#1c1c1c" transform="rotate(-90 1432.4 202)"><text transform="translate(1425.85 202) scale(0.900 1)" text-anchor="middle">1</text><text transform="translate(1432.4 202) scale(0.900 1)" text-anchor="middle">2</text><text transform="translate(1438.95 202) scale(0.900 1)" text-anchor="middle">2</text></g>
<line x1="1195.4" y1="277" x2="1195.4" y2="341.9" stroke="#000" stroke-width="1.03"/>
<line x1="1304.8" y1="277" x2="1304.8" y2="341.9" stroke="#000" stroke-width="1.03"/>
<line x1="1171.4" y1="334" x2="1328.8" y2="334" stroke="#000" stroke-width="1.03"/>
<polygon points="1195.4,334 1179.4,336.7 1179.4,331.3" fill="#000" stroke="none" stroke-width="0" />
<polygon points="1304.8,334 1320.8,331.3 1320.8,336.7" fill="#000" stroke="none" stroke-width="0" />
<g font-family="Liberation Serif" font-size="14.0" fill="#1c1c1c"><text transform="translate(1245.88 318.9) scale(0.900 1)" text-anchor="middle">7</text><text transform="translate(1252.42 318.9) scale(0.900 1)" text-anchor="middle">2</text></g>
<text x="1216.2" y="332.3" font-family="'Liberation Serif', 'Noto Serif CJK SC', serif" font-size="13.1" letter-spacing="0.35" fill="#1c1c1c">同轴发光口</text>
<line x1="1174.3" y1="297.8" x2="1174.3" y2="383.3" stroke="#000" stroke-width="1.03"/>
<line x1="1325.5" y1="297.8" x2="1325.5" y2="383.3" stroke="#000" stroke-width="1.03"/>
<line x1="1174.3" y1="375.5" x2="1325.5" y2="375.5" stroke="#000" stroke-width="1.03"/>
<polygon points="1174.3,375.5 1190.3,372.8 1190.3,378.2" fill="#000" stroke="none" stroke-width="0" />
<polygon points="1325.5,375.5 1309.5,378.2 1309.5,372.8" fill="#000" stroke="none" stroke-width="0" />
<g font-family="Liberation Serif" font-size="14.0" fill="#1c1c1c"><text transform="translate(1242.88 359.9) scale(0.900 1)" text-anchor="middle">1</text><text transform="translate(1249.42 359.9) scale(0.900 1)" text-anchor="middle">0</text><text transform="translate(1255.97 359.9) scale(0.900 1)" text-anchor="middle">0</text></g>
<text x="1229.4" y="373.9" font-family="'Liberation Serif', 'Noto Serif CJK SC', serif" font-size="13.1" letter-spacing="0.35" fill="#1c1c1c">发光口</text>
<line x1="1167.4" y1="304.5" x2="1167.4" y2="410" stroke="#000" stroke-width="1.03"/>
<line x1="1332.8" y1="304.5" x2="1332.8" y2="410" stroke="#000" stroke-width="1.03"/>
<line x1="1167.4" y1="402.3" x2="1332.8" y2="402.3" stroke="#000" stroke-width="1.03"/>
<polygon points="1167.4,402.3 1183.4,399.6 1183.4,405" fill="#000" stroke="none" stroke-width="0" />
<polygon points="1332.8,402.3 1316.8,405 1316.8,399.6" fill="#000" stroke="none" stroke-width="0" />
<g font-family="Liberation Serif" font-size="14.0" fill="#1c1c1c"><text transform="translate(1243.08 399.6) scale(0.900 1)" text-anchor="middle">1</text><text transform="translate(1249.62 399.6) scale(0.900 1)" text-anchor="middle">0</text><text transform="translate(1256.17 399.6) scale(0.900 1)" text-anchor="middle">9</text></g>
</g>
<g id="v5">
<g font-family="Liberation Serif" font-size="14.0" fill="#1c1c1c"><text transform="translate(468 426.8) scale(0.701 1)" text-anchor="middle">C</text><rect x="471.4" y="422.1" width="6.8" height="1.7" fill="#1c1c1c"/><text transform="translate(481.6 426.8) scale(0.701 1)" text-anchor="middle">C</text></g>
<path d="M433.8 677.5 V523.3 H558.3 V677.5" fill="none" stroke="#000" stroke-width="1.26" />
<line x1="440" y1="532" x2="440" y2="677.5" stroke="#000" stroke-width="1.15"/>
<line x1="551.3" y1="532" x2="551.3" y2="677.5" stroke="#000" stroke-width="1.15"/>
<line x1="440" y1="532" x2="551.3" y2="532" stroke="#000" stroke-width="1.38"/>
<line x1="448" y1="533.6" x2="551.3" y2="533.6" stroke="#000" stroke-width="0.69"/>
<line x1="472" y1="532" x2="480.5" y2="523.3" stroke="#000" stroke-width="0.92"/>
<line x1="496" y1="532" x2="504.5" y2="523.3" stroke="#000" stroke-width="0.92"/>
<line x1="520" y1="532" x2="528.5" y2="523.3" stroke="#000" stroke-width="0.92"/>
<line x1="544" y1="532" x2="552.5" y2="523.3" stroke="#000" stroke-width="0.92"/>
<line x1="551.3" y1="552" x2="558.3" y2="543" stroke="#000" stroke-width="0.92"/>
<line x1="551.3" y1="582" x2="558.3" y2="573" stroke="#000" stroke-width="0.92"/>
<line x1="551.3" y1="612" x2="558.3" y2="603" stroke="#000" stroke-width="0.92"/>
<line x1="551.3" y1="642" x2="558.3" y2="633" stroke="#000" stroke-width="0.92"/>
<line x1="551.3" y1="668" x2="558.3" y2="659" stroke="#000" stroke-width="0.92"/>
<line x1="433.8" y1="548" x2="440" y2="540" stroke="#000" stroke-width="0.92"/>
<line x1="436.6" y1="556" x2="436.6" y2="672" stroke="#000" stroke-width="0.92"/>
<line x1="438.2" y1="556" x2="438.2" y2="672" stroke="#000" stroke-width="0.69"/>
<line x1="433.8" y1="562" x2="436.6" y2="562" stroke="#000" stroke-width="0.8"/>
<line x1="433.8" y1="565" x2="436.6" y2="565" stroke="#000" stroke-width="0.8"/>
<line x1="433.8" y1="668" x2="438" y2="668" stroke="#000" stroke-width="0.8"/>
<line x1="433.8" y1="671" x2="438" y2="671" stroke="#000" stroke-width="0.8"/>
<rect x="436.3" y="550.6" width="118.7" height="4" fill="#fff" stroke="#000" stroke-width="1.4"/>
<line x1="450" y1="554.6" x2="454" y2="550.6" stroke="#000" stroke-width="0.69"/>
<line x1="476" y1="554.6" x2="480" y2="550.6" stroke="#000" stroke-width="0.69"/>
<line x1="502" y1="554.6" x2="506" y2="550.6" stroke="#000" stroke-width="0.69"/>
<line x1="528" y1="554.6" x2="532" y2="550.6" stroke="#000" stroke-width="0.69"/>
<line x1="437.5" y1="556.3" x2="553" y2="671.3" stroke="#000" stroke-width="1.49"/>
<line x1="438.9" y1="555.2" x2="554.2" y2="670.2" stroke="#000" stroke-width="1.26"/>
<line x1="552.6" y1="671.6" x2="554.4" y2="669.8" stroke="#000" stroke-width="1.84"/>
<circle cx="453.3" cy="572" r="3.2" fill="none" stroke="#000" stroke-width="1.03"/>
<circle cx="536.8" cy="655.5" r="3.4" fill="none" stroke="#000" stroke-width="1.03"/>
<path d="M440 568.8 A3.2 3.2 0 0 1 440 575.2" fill="none" stroke="#000" stroke-width="0.92" />
<path d="M440 651.8 A3.2 3.2 0 0 1 440 658.2" fill="none" stroke="#000" stroke-width="0.92" />
<circle cx="469.3" cy="673.3" r="1.9" fill="none" stroke="#000" stroke-width="1.03"/>
<circle cx="522" cy="673.3" r="1.9" fill="none" stroke="#000" stroke-width="1.03"/>
<line x1="495.75" y1="526.3" x2="495.75" y2="628" stroke="#000" stroke-width="1.03"/>
<line x1="495.75" y1="632" x2="495.75" y2="640" stroke="#000" stroke-width="1.03"/>
<line x1="495.75" y1="644" x2="495.75" y2="743.8" stroke="#000" stroke-width="1.03"/>
<rect x="436.3" y="482" width="13.8" height="16.8" fill="#000"/>
<rect x="434.6" y="486.5" width="2" height="7" fill="#000"/>
<path d="M440.8 494 V508.5 H438.8 V531.5 H445 V524.5 H448 V508.5 H446.6 V494 Z" fill="#fff" stroke="#000" stroke-width="1.15" />
<circle cx="443.4" cy="490" r="3.6" fill="#fff" stroke="#000" stroke-width="1.03"/>
<circle cx="443.4" cy="490.2" r="2.2" fill="#fff" stroke="#555" stroke-width="0.8"/>
<rect x="441.5" y="491.5" width="3.9" height="4" fill="#fff"/>
<line x1="440.8" y1="505" x2="446.6" y2="497.5" stroke="#000" stroke-width="0.8"/>
<line x1="438.8" y1="520" x2="448" y2="509" stroke="#000" stroke-width="0.8"/>
<line x1="438.8" y1="529.5" x2="447" y2="519.5" stroke="#000" stroke-width="0.8"/>
<rect x="439.5" y="529.3" width="6" height="3.2" fill="#000"/>
<path d="M448 524.5 H456.3 V532" fill="none" stroke="#000" stroke-width="1.03" />
<line x1="454.3" y1="524.5" x2="454.3" y2="532" stroke="#000" stroke-width="0.69"/>
<line x1="436" y1="677.8" x2="552.5" y2="677.8" stroke="#484848" stroke-width="1.15"/>
<line x1="436" y1="680.7" x2="552.5" y2="680.7" stroke="#484848" stroke-width="1.15"/>
<line x1="441" y1="685.5" x2="565" y2="685.5" stroke="#000" stroke-width="1.26"/>
<line x1="427.5" y1="685.5" x2="436" y2="685.5" stroke="#000" stroke-width="1.03"/>
<line x1="437" y1="691.5" x2="557" y2="691.5" stroke="#000" stroke-width="1.26"/>
<line x1="437" y1="693.4" x2="557" y2="693.4" stroke="#484848" stroke-width="1.03"/>
<line x1="434" y1="696.4" x2="553" y2="696.4" stroke="#333" stroke-width="1.03"/>
<line x1="434" y1="699.9" x2="558" y2="699.9" stroke="#000" stroke-width="1.38"/>
<line x1="432" y1="701.7" x2="560" y2="701.7" stroke="#484848" stroke-width="0.92"/>
<line x1="430" y1="703.9" x2="562" y2="703.9" stroke="#484848" stroke-width="1.03"/>
<line x1="428" y1="707.2" x2="566" y2="707.2" stroke="#000" stroke-width="1.38"/>
<line x1="428" y1="709.6" x2="566" y2="709.6" stroke="#484848" stroke-width="0.92"/>
<line x1="427" y1="712.3" x2="570" y2="712.3" stroke="#333" stroke-width="0.92"/>
<rect x="426.5" y="713.1" width="146.2" height="2.7" fill="#000"/>
<line x1="420" y1="718" x2="574" y2="718" stroke="#484848" stroke-width="1.03"/>
<line x1="418" y1="721.1" x2="576" y2="721.1" stroke="#484848" stroke-width="1.03"/>
<line x1="413" y1="723.3" x2="578.6" y2="723.3" stroke="#000" stroke-width="1.38"/>
<line x1="444.5" y1="680.5" x2="444.5" y2="692.5" stroke="#000" stroke-width="0.92"/>
<line x1="446.5" y1="680.5" x2="446.5" y2="692.5" stroke="#000" stroke-width="0.69"/>
<line x1="546.5" y1="680.5" x2="546.5" y2="692.5" stroke="#000" stroke-width="0.92"/>
<line x1="548.5" y1="680.5" x2="548.5" y2="692.5" stroke="#000" stroke-width="0.69"/>
<line x1="436" y1="677.5" x2="436" y2="685.5" stroke="#000" stroke-width="1.03"/>
<line x1="552.5" y1="677.5" x2="552.5" y2="685.5" stroke="#000" stroke-width="1.03"/>
<rect x="436" y="681" width="5" height="3.5" fill="#000"/>
<rect x="548" y="681" width="5" height="3.5" fill="#000"/>
<path d="M552.5 685.5 H564.8 V693.3 H573.2 V700.3 H578.5 V723.3" fill="none" stroke="#000" stroke-width="1.15" />
<line x1="575.8" y1="702" x2="575.8" y2="721.1" stroke="#000" stroke-width="0.92"/>
<path d="M562.5 684.5 V692 M571 693 V700" fill="none" stroke="#000" stroke-width="0.8" />
<path d="M553 687 L560 692 L556 699 M560 694 L568 705 L562 710 M565 700 L572 712" fill="none" stroke="#000" stroke-width="1.15" />
<circle cx="556.5" cy="696" r="2.3" fill="#777" stroke="#000" stroke-width="1.15"/>
<circle cx="563.5" cy="707" r="2.3" fill="#777" stroke="#000" stroke-width="1.15"/>
<circle cx="570.5" cy="717" r="1.8" fill="#999" stroke="#000" stroke-width="1.03"/>
<line x1="563" y1="720" x2="574" y2="706" stroke="#000" stroke-width="0.92"/>
<path d="M436 684.5 H427.5 V692 M425 700 V692.5 M413 723.3 V716 H420 V708 M425 712 V700" fill="none" stroke="#000" stroke-width="1.03" />
<circle cx="438.5" cy="698" r="2.4" fill="#777" stroke="#000" stroke-width="1.15"/>
<circle cx="430.5" cy="708.5" r="2.4" fill="#777" stroke="#000" stroke-width="1.15"/>
<circle cx="421.5" cy="719" r="2.2" fill="#999" stroke="#000" stroke-width="1.03"/>
<path d="M432 690 L437 694 L432 700 M424 701 L429 705 L424 711 M417 712 L421 716" fill="none" stroke="#000" stroke-width="1.15" />
<rect x="385.5" y="683.8" width="16.3" height="11.2" fill="#000"/>
<rect x="390.5" y="682.8" width="5" height="2" fill="#000"/>
<path d="M394.5 687.16 H409.5 L413.5 685.46 H432 M394.5 692.76 H409.5 L413.5 691.16 H432" fill="none" stroke="#000" stroke-width="1.03" />
<path d="M394.5 687.16 H409.5 L413.5 685.46 H432 V691.16 H413.5 L409.5 692.76 H394.5 Z" fill="#fff" stroke="#000" stroke-width="0.9"/>
<line x1="401.5" y1="692.16" x2="407" y2="686.16" stroke="#000" stroke-width="0.8"/>
<line x1="411.5" y1="692.16" x2="417" y2="686.16" stroke="#000" stroke-width="0.8"/>
<line x1="421.5" y1="692.16" x2="427" y2="686.16" stroke="#000" stroke-width="0.8"/>
<path d="M402 687.56 H393.5 A2.6 2.6 0 0 0 393.5 692.56 H402 Z" fill="#fff"/>
<ellipse cx="393.1" cy="690.06" rx="1.6" ry="2.3" fill="#fff" stroke="#000" stroke-width="0.8"/>
<rect x="377.5" y="693.8" width="16.3" height="11.2" fill="#000"/>
<rect x="382.5" y="692.8" width="5" height="2" fill="#000"/>
<path d="M386.5 697.16 H401.5 L405.5 695.46 H424 M386.5 702.76 H401.5 L405.5 701.16 H424" fill="none" stroke="#000" stroke-width="1.03" />
<path d="M386.5 697.16 H401.5 L405.5 695.46 H424 V701.16 H405.5 L401.5 702.76 H386.5 Z" fill="#fff" stroke="#000" stroke-width="0.9"/>
<line x1="393.5" y1="702.16" x2="399" y2="696.16" stroke="#000" stroke-width="0.8"/>
<line x1="403.5" y1="702.16" x2="409" y2="696.16" stroke="#000" stroke-width="0.8"/>
<line x1="413.5" y1="702.16" x2="419" y2="696.16" stroke="#000" stroke-width="0.8"/>
<path d="M394 697.56 H385.5 A2.6 2.6 0 0 0 385.5 702.56 H394 Z" fill="#fff"/>
<ellipse cx="385.1" cy="700.06" rx="1.6" ry="2.3" fill="#fff" stroke="#000" stroke-width="0.8"/>
<rect x="371.8" y="706.3" width="16.3" height="14.5" fill="#000"/>
<rect x="376.8" y="705.3" width="5" height="2" fill="#000"/>
<path d="M380.8 711.48 H395.8 L399.8 709.77 H416 M380.8 717.07 H395.8 L399.8 715.48 H416" fill="none" stroke="#000" stroke-width="1.03" />
<path d="M380.8 711.48 H395.8 L399.8 709.77 H416 V715.48 H399.8 L395.8 717.07 H380.8 Z" fill="#fff" stroke="#000" stroke-width="0.9"/>
<line x1="387.8" y1="716.48" x2="393.3" y2="710.48" stroke="#000" stroke-width="0.8"/>
<line x1="397.8" y1="716.48" x2="403.3" y2="710.48" stroke="#000" stroke-width="0.8"/>
<line x1="407.8" y1="716.48" x2="413.3" y2="710.48" stroke="#000" stroke-width="0.8"/>
<path d="M388.3 711.88 H379.8 A2.6 2.6 0 0 0 379.8 716.88 H388.3 Z" fill="#fff"/>
<ellipse cx="379.4" cy="714.38" rx="1.6" ry="2.3" fill="#fff" stroke="#000" stroke-width="0.8"/>
<circle cx="439" cy="687.8" r="1.8" fill="#888" stroke="#000" stroke-width="0.92"/>
<path d="M476.4 685.6 A145.6 145.6 0 0 0 495.91 758.4" fill="none" stroke="#000" stroke-width="1.03" />
<polygon points="476.4,685.6 478.6,699.6 474.2,699.6" fill="#000" stroke="none" stroke-width="0" />
<polygon points="495.91,758.4 487,747.38 490.81,745.18" fill="#000" stroke="none" stroke-width="0" />
<path d="M492.2 685.6 A89.3 89.3 0 0 0 518.36 748.74" fill="none" stroke="#000" stroke-width="1.03" />
<polygon points="492.2,685.6 494.4,699.6 490,699.6" fill="#000" stroke="none" stroke-width="0" />
<polygon points="518.36,748.74 506.9,740.4 510.01,737.29" fill="#000" stroke="none" stroke-width="0" />
<path d="M520.2 663.53 A47 47 0 0 0 559.24 732.54" fill="none" stroke="#000" stroke-width="1.03" />
<polygon points="514.7,685.6 513.29,670.51 517.68,670.74" fill="#000" stroke="none" stroke-width="0" />
<polygon points="538.2,726.3 552,729.51 550.36,733.59" fill="#000" stroke="none" stroke-width="0" />
<line x1="475" y1="771.3" x2="513.8" y2="750" stroke="#000" stroke-width="1.03"/>
<line x1="522" y1="745" x2="575" y2="713" stroke="#000" stroke-width="0.92"/>
<line x1="493.3" y1="774.5" x2="530" y2="737.5" stroke="#000" stroke-width="1.03"/>
<line x1="534" y1="733.5" x2="566" y2="701.5" stroke="#000" stroke-width="0.8"/>
<line x1="527.5" y1="738.8" x2="536" y2="731.5" stroke="#000" stroke-width="0.92"/>
<line x1="539" y1="729" x2="557.5" y2="713.8" stroke="#000" stroke-width="0.8"/>
<text x="487.9" y="737.3" font-family="Liberation Sans" font-size="13" fill="#1c1c1c" text-anchor="middle" textLength="17.5" lengthAdjust="spacingAndGlyphs" transform="rotate(68 487.9 737.3)">30°</text>
<text x="507.6" y="732" font-family="Liberation Sans" font-size="13" fill="#1c1c1c" text-anchor="middle" textLength="17.5" lengthAdjust="spacingAndGlyphs" transform="rotate(55 507.6 732)">45°</text>
<text x="526.6" y="711.6" font-family="Liberation Sans" font-size="13" fill="#1c1c1c" text-anchor="middle" textLength="17.5" lengthAdjust="spacingAndGlyphs" transform="rotate(38 526.6 711.6)">60°</text>
</g>
<g id="v6" stroke-linejoin="round">
<polygon points="1043,735 1149.8,756.2 1280.6,673.5 1180,655" fill="#a5aab9" stroke="#1a1a1a" stroke-width="0.9" />
<polygon points="1043,735 1149.8,756.2 1152.7,778.3 1048.8,755.2" fill="#8b90a1" stroke="#1a1a1a" stroke-width="1.0" />
<polygon points="1149.8,756.2 1280.6,673.5 1285.4,694.2 1152.7,778.3" fill="#747989" stroke="#1a1a1a" stroke-width="1.0" />
<line x1="1146.6" y1="756" x2="1149.8" y2="777.6" stroke="#444" stroke-width="0.8"/>
<polygon points="1048.9,726.9 1146.1,745.6 1272,668.5 1180,650" fill="#a5aab9" stroke="#1a1a1a" stroke-width="0.9" />
<polygon points="1048.9,726.9 1146.1,745.6 1147.6,753 1050.2,733.2" fill="#8b90a1" stroke="#1a1a1a" stroke-width="0.9" />
<polygon points="1146.1,745.6 1272,668.5 1275.5,673.5 1147.6,753" fill="#777c8c" stroke="#1a1a1a" stroke-width="0.9" />
<line x1="1050" y1="734.6" x2="1147.8" y2="754.6" stroke="#050505" stroke-width="2.99"/>
<line x1="1147.8" y1="754.6" x2="1277.5" y2="675" stroke="#050505" stroke-width="2.99"/>
<line x1="1049.6" y1="727.6" x2="1146" y2="746.4" stroke="#c3c7d3" stroke-width="1.38"/>
<line x1="1146.5" y1="746.2" x2="1271" y2="669.6" stroke="#b5b9c6" stroke-width="1.15"/>
<polygon points="1057.5,716.3 1143.3,734.2 1266,664 1180,646" fill="#a5aab9" stroke="#1a1a1a" stroke-width="0.9" />
<polygon points="1057.5,716.3 1143.3,734.2 1146.5,744 1059.2,724.5" fill="#8b90a1" stroke="#1a1a1a" stroke-width="0.9" />
<polygon points="1143.3,734.2 1146.9,740.8 1268,667.5 1264,661" fill="#777c8c" stroke="#1a1a1a" stroke-width="0.9" />
<polygon points="1146.9,740.8 1268,667.5 1269,672.5 1147.9,749.4 1146.1,745.6" fill="#7a7f8f" stroke="#1a1a1a" stroke-width="0.9" />
<polygon points="1058.1,702.2 1137.9,717.1 1142.3,732.9 1060.9,715.3" fill="#8d92a3" stroke="#1a1a1a" stroke-width="1.0" />
<polygon points="1137.9,717.1 1144.8,732.9 1142.3,732.9" fill="#7a7f8f" stroke="#1a1a1a" stroke-width="0.8" />
<polygon points="1146,734 1248.8,666.7 1256.5,668.7 1146.9,740.8" fill="#80859a" stroke="#1a1a1a" stroke-width="0.9" />
<line x1="1058.6" y1="703.4" x2="1138.2" y2="718.3" stroke="#c0c4d0" stroke-width="1.03"/>
<polygon points="1244.8,651.5 1248.6,649.3 1253,662.5 1249.4,664.6" fill="#8a8fa0" stroke="#1a1a1a" stroke-width="0.9" />
<defs><linearGradient id="lg1" x1="0" y1="0" x2="1" y2="1"><stop offset="0" stop-color="#858a8b"/><stop offset="1" stop-color="#9a9e9f"/></linearGradient></defs>
<polygon points="1021.6,574.1 1100,586.9 1137.9,717.1 1058.1,702.2" fill="url(#lg1)" stroke="#1a1a1a" stroke-width="1.2" />
<polygon points="1100,586.9 1203,525 1248.8,666.7 1146,734 1143,733" fill="#7b7f80" stroke="#1a1a1a" stroke-width="1.2" />
<polygon points="1124.7,508.2 1203,525 1100,586.9 1021.6,574.1" fill="#1d1d1d" stroke="#1a1a1a" stroke-width="1.4" />
<polygon points="1124.43,509.09 1201.01,525.52 1100.27,586.06 1023.6,573.54" fill="#b9bcbe" stroke="none"/>
<polygon points="1124.08,510.22 1198.47,526.18 1100.62,584.98 1026.14,572.82" fill="#a9adaf" stroke="#1a1a1a" stroke-width="1.1"/>
<line x1="1101.6" y1="588" x2="1146.2" y2="732.8" stroke="#111" stroke-width="2.07"/>
<line x1="1204.4" y1="526.5" x2="1250" y2="666.3" stroke="#111" stroke-width="2.07"/>
<line x1="1098" y1="588.5" x2="1136" y2="716.5" stroke="#1a1a1a" stroke-width="0.8"/>
<line x1="1103.4" y1="587.2" x2="1148.4" y2="732" stroke="#c8cacb" stroke-width="0.8"/>
<ellipse cx="1125.5" cy="523.8" rx="2.5" ry="1.5" fill="#4d5052" stroke="#0d0d0d" stroke-width="1.1" transform="rotate(-15 1125.5 523.8)"/>
<ellipse cx="1163.8" cy="532.3" rx="2.5" ry="1.5" fill="#4d5052" stroke="#0d0d0d" stroke-width="1.1" transform="rotate(-15 1163.8 532.3)"/>
<ellipse cx="1060" cy="565.5" rx="2.5" ry="1.5" fill="#4d5052" stroke="#0d0d0d" stroke-width="1.1" transform="rotate(-15 1060 565.5)"/>
<ellipse cx="1098.2" cy="574" rx="2.5" ry="1.5" fill="#4d5052" stroke="#0d0d0d" stroke-width="1.1" transform="rotate(-15 1098.2 574)"/>
<ellipse cx="1189.8" cy="575.3" rx="1.9" ry="2.4" fill="#8f9395" stroke="#0d0d0d" stroke-width="1.2" transform="rotate(-15 1189.8 575.3)"/>
<ellipse cx="1135" cy="610" rx="1.9" ry="2.4" fill="#8f9395" stroke="#0d0d0d" stroke-width="1.2" transform="rotate(-15 1135 610)"/>
<ellipse cx="1210.6" cy="642.2" rx="1.9" ry="2.4" fill="#8f9395" stroke="#0d0d0d" stroke-width="1.2" transform="rotate(-15 1210.6 642.2)"/>
<ellipse cx="1156" cy="677" rx="1.9" ry="2.4" fill="#8f9395" stroke="#0d0d0d" stroke-width="1.2" transform="rotate(-15 1156 677)"/>
<ellipse cx="1025" cy="579.5" rx="1.7" ry="2.5" fill="#55585a" stroke="#0d0d0d" stroke-width="1.1" transform="rotate(-15 1025 579.5)"/>
<ellipse cx="1029.8" cy="594" rx="1.7" ry="2.5" fill="#55585a" stroke="#0d0d0d" stroke-width="1.1" transform="rotate(-15 1029.8 594)"/>
<ellipse cx="1098.5" cy="595" rx="1.7" ry="2.5" fill="#55585a" stroke="#0d0d0d" stroke-width="1.1" transform="rotate(-15 1098.5 595)"/>
<ellipse cx="1102.6" cy="609.5" rx="1.7" ry="2.5" fill="#55585a" stroke="#0d0d0d" stroke-width="1.1" transform="rotate(-15 1102.6 609.5)"/>
<ellipse cx="1081.7" cy="713" rx="2.5" ry="3.0" fill="#4a4b50" stroke="#0c0c0c" stroke-width="1.1"/>
<ellipse cx="1081.7" cy="713" rx="1.0" ry="1.3" fill="#85888f"/>
<ellipse cx="1115.2" cy="720.5" rx="2.5" ry="3.0" fill="#4a4b50" stroke="#0c0c0c" stroke-width="1.1"/>
<ellipse cx="1115.2" cy="720.5" rx="1.0" ry="1.3" fill="#85888f"/>
<ellipse cx="1076.6" cy="724.3" rx="2.5" ry="3.0" fill="#4a4b50" stroke="#0c0c0c" stroke-width="1.1"/>
<ellipse cx="1076.6" cy="724.3" rx="1.0" ry="1.3" fill="#85888f"/>
<ellipse cx="1124.3" cy="734.6" rx="2.5" ry="3.0" fill="#4a4b50" stroke="#0c0c0c" stroke-width="1.1"/>
<ellipse cx="1124.3" cy="734.6" rx="1.0" ry="1.3" fill="#85888f"/>
<ellipse cx="1063.3" cy="734.5" rx="2.5" ry="3.0" fill="#4a4b50" stroke="#0c0c0c" stroke-width="1.1"/>
<ellipse cx="1063.3" cy="734.5" rx="1.0" ry="1.3" fill="#85888f"/>
<ellipse cx="1130.7" cy="748.3" rx="2.5" ry="3.0" fill="#4a4b50" stroke="#0c0c0c" stroke-width="1.1"/>
<ellipse cx="1130.7" cy="748.3" rx="1.0" ry="1.3" fill="#85888f"/>
<ellipse cx="1057.4" cy="744.3" rx="2.5" ry="3.0" fill="#4a4b50" stroke="#0c0c0c" stroke-width="1.1"/>
<ellipse cx="1057.4" cy="744.3" rx="1.0" ry="1.3" fill="#85888f"/>
<ellipse cx="1134.2" cy="761" rx="2.5" ry="3.0" fill="#4a4b50" stroke="#0c0c0c" stroke-width="1.1"/>
<ellipse cx="1134.2" cy="761" rx="1.0" ry="1.3" fill="#85888f"/>
<ellipse cx="1173.6" cy="720.4" rx="2.5" ry="3.0" fill="#4a4b50" stroke="#0c0c0c" stroke-width="1.1"/>
<ellipse cx="1173.6" cy="720.4" rx="1.0" ry="1.3" fill="#85888f"/>
<ellipse cx="1228.3" cy="685.6" rx="2.5" ry="3.0" fill="#4a4b50" stroke="#0c0c0c" stroke-width="1.1"/>
<ellipse cx="1228.3" cy="685.6" rx="1.0" ry="1.3" fill="#85888f"/>
<ellipse cx="1170.8" cy="736" rx="2.5" ry="3.0" fill="#4a4b50" stroke="#0c0c0c" stroke-width="1.1"/>
<ellipse cx="1170.8" cy="736" rx="1.0" ry="1.3" fill="#85888f"/>
<ellipse cx="1246.3" cy="688.3" rx="2.5" ry="3.0" fill="#4a4b50" stroke="#0c0c0c" stroke-width="1.1"/>
<ellipse cx="1246.3" cy="688.3" rx="1.0" ry="1.3" fill="#85888f"/>
<ellipse cx="1171.2" cy="749.5" rx="2.5" ry="3.0" fill="#4a4b50" stroke="#0c0c0c" stroke-width="1.1"/>
<ellipse cx="1171.2" cy="749.5" rx="1.0" ry="1.3" fill="#85888f"/>
<ellipse cx="1258.5" cy="694" rx="2.5" ry="3.0" fill="#4a4b50" stroke="#0c0c0c" stroke-width="1.1"/>
<ellipse cx="1258.5" cy="694" rx="1.0" ry="1.3" fill="#85888f"/>
<path d="M1077.5 541 C1074 533 1068.5 525 1071.5 514 C1074 506 1081 502 1088 499.5" fill="none" stroke="#1c1c1c" stroke-width="5.6" stroke-linecap="round"/>
<path d="M1072.8 531 L1079.3 542.5" fill="none" stroke="#161616" stroke-width="7.4" stroke-linecap="butt"/>
<line x1="1069.7" y1="534.7" x2="1077.1" y2="532.1" stroke="#555" stroke-width="0.92"/>
<line x1="1071.2" y1="537.1" x2="1078.6" y2="534.5" stroke="#555" stroke-width="0.92"/>
<line x1="1072.7" y1="539.5" x2="1080.1" y2="536.9" stroke="#555" stroke-width="0.92"/>
<line x1="1074.2" y1="541.9" x2="1081.6" y2="539.3" stroke="#555" stroke-width="0.92"/>
<path d="M1082.5 503.2 L1093 496.5" fill="none" stroke="#151515" stroke-width="8.0" />
<polygon points="1090,489 1116,474.8 1121.5,488 1097,502.5" fill="#222" stroke="#000" stroke-width="1" />
<polygon points="1090,489 1116,474.8 1113,471.5 1088,485.6" fill="#3a3a3a" stroke="#000" stroke-width="0.8" />
<polygon points="1113.5,473.5 1127,468.8 1132.8,484 1120,490.5" fill="#1b1b1b" stroke="#000" stroke-width="1" />
<polygon points="1113.5,473.5 1127,468.8 1124.5,466.6 1117,469" fill="#333" stroke="#000" stroke-width="0.8" />
<line x1="1119.5" y1="471.5" x2="1125" y2="487.5" stroke="#444" stroke-width="0.92"/>
</g>
</svg>
</body></html>
